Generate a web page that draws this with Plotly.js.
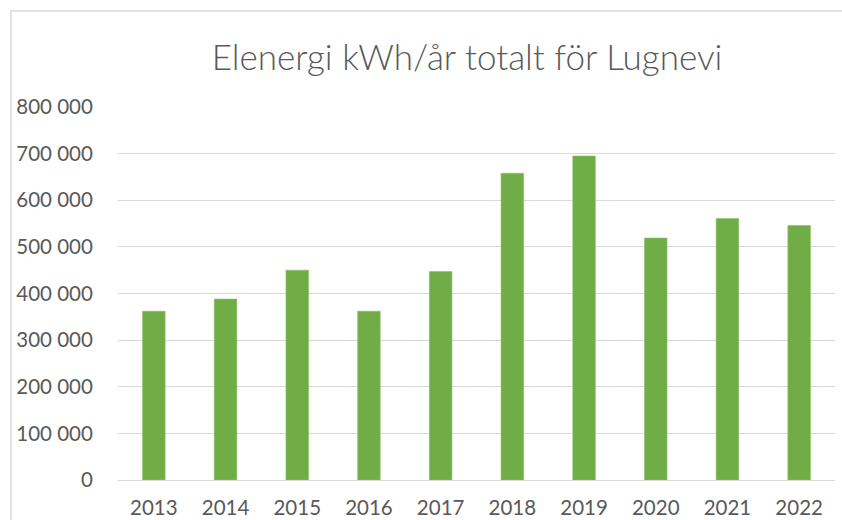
<!DOCTYPE html>
<html>
<head>
<meta charset="utf-8">
<script src="https://cdn.plot.ly/plotly-3.0.1.min.js"></script>
<style>html,body{margin:0;padding:0;background:#fff;overflow:hidden}</style>
</head>
<body>
<div id="chart" style="width:842px;height:520px"></div>
<script>
const years = ["2013","2014","2015","2016","2017","2018","2019","2020","2021","2022"];
const kwh = [362000, 388000, 450000, 362000, 447000, 658000, 695000, 519000, 561000, 546000];
const titleText = "Elenergi kWh/år totalt för Lugnevi";
const yTicks = [0,100000,200000,300000,400000,500000,600000,700000,800000];

const trace = {
  type: "bar",
  x: years,
  y: kwh,
  marker: {color: "#70ad47", line: {color: "#8cc068", width: 0.6}},
  hoverinfo: "x+y"
};

const layout = {
  width: 842, height: 520,
  margin: {l: 118, r: 7, t: 107, b: 40, pad: 0},
  paper_bgcolor: "#ffffff", plot_bgcolor: "#ffffff",
  separators: ", ",
  font: {family: "Lato, 'Open Sans', sans-serif", color: "#595959", size: 20.5},
  title: {
    text: titleText,
    font: {family: "Lato, 'Open Sans', sans-serif", size: 35, color: "#595959", weight: 300},
    xref: "container", yref: "container",
    x: 467/842, xanchor: "center",
    y: 1 - 58/520, yanchor: "middle"
  },
  bargap: 0.685,
  xaxis: {
    type: "category",
    showgrid: false, zeroline: false,
    showline: true, linecolor: "#d9d9d9", linewidth: 1,
    ticks: "outside", ticklen: 9, tickcolor: "rgba(0,0,0,0)",
    tickfont: {size: 20.5, color: "#595959"}
  },
  yaxis: {
    range: [0, 800000],
    tickvals: yTicks,
    tickformat: ",d",
    showgrid: true, gridcolor: "#d9d9d9", gridwidth: 1,
    zeroline: false, showline: false,
    ticks: "outside", ticklen: 20, tickcolor: "rgba(0,0,0,0)",
    tickfont: {size: 20.5, color: "#595959"}
  },
  shapes: [{
    type: "rect", xref: "paper", yref: "paper",
    x0: -107/717, x1: 900/717, y0: -200/373, y1: (480-11)/373,
    line: {color: "#d9d9d9", width: 1.5}, fillcolor: "rgba(0,0,0,0)", layer: "below"
  }],
  showlegend: false
};

Plotly.newPlot("chart", [trace], layout, {displayModeBar: false, staticPlot: true});
</script>
</body>
</html>
